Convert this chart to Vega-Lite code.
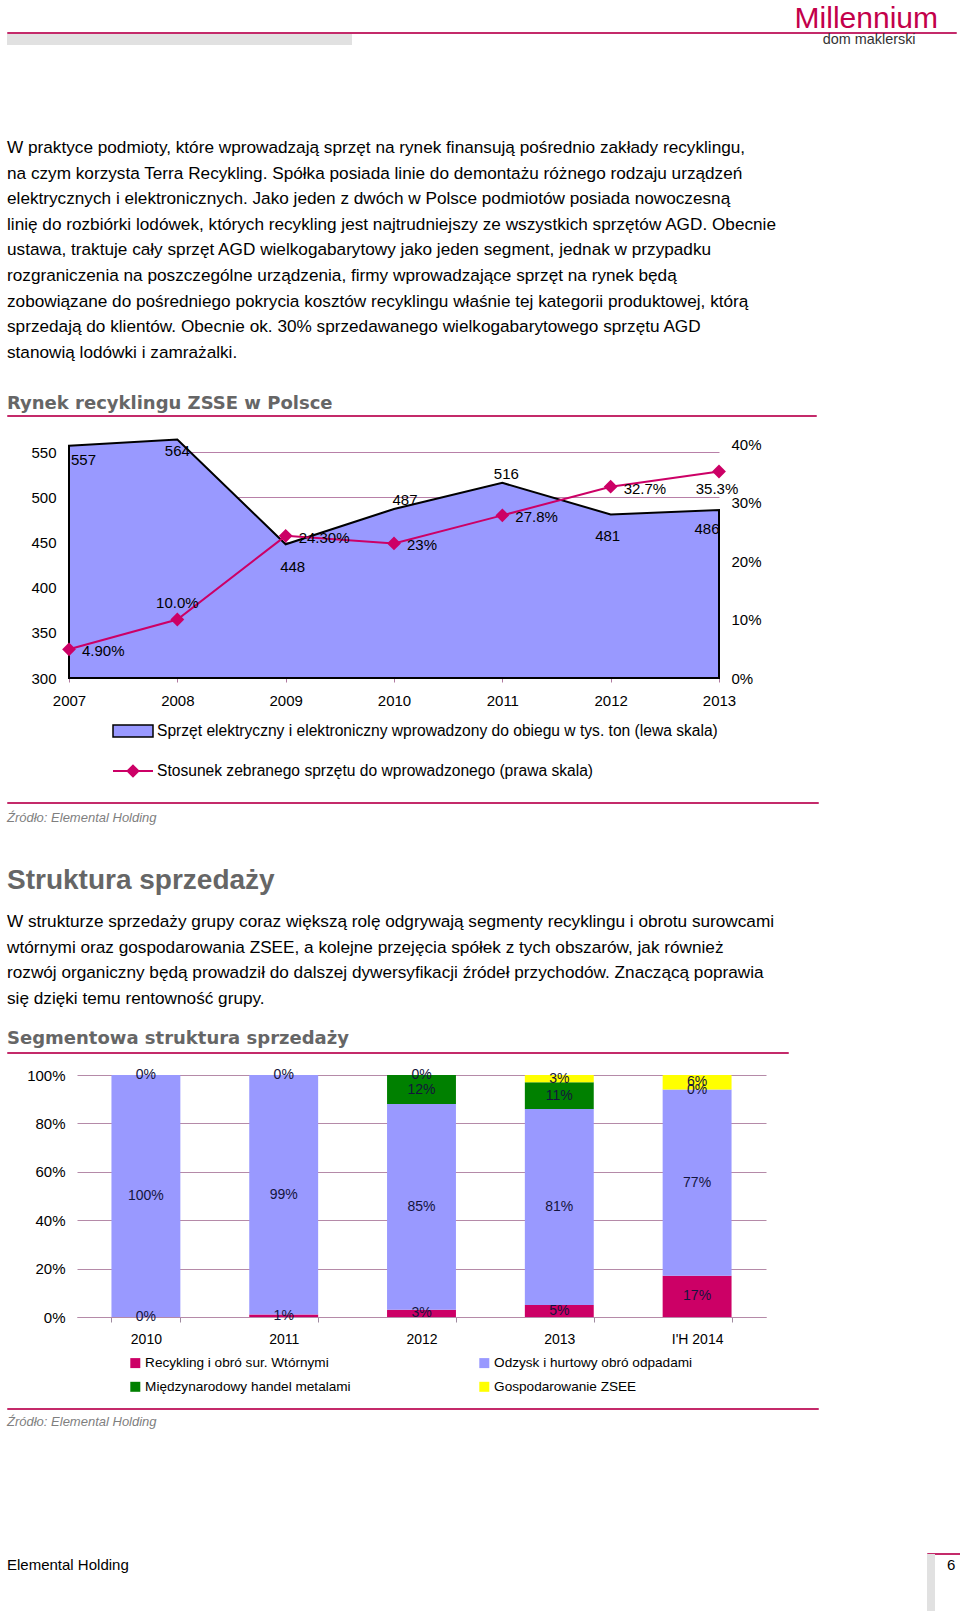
{
  "$schema": "https://vega.github.io/schema/vega-lite/v6.json",
  "background": "white",
  "padding": {"left": 6, "top": 3, "right": 0, "bottom": 0},
  "spacing": 0,
  "bounds": "full",
  "center": false,
  "resolve": {
    "scale": {"color": "independent", "fill": "independent", "stroke": "independent"},
    "legend": {"color": "independent", "fill": "independent", "stroke": "independent"}
  },
  "datasets": {
    "blank": [{}],
    "recykling": [
      {"year": "2007", "sprzet": 557, "ratio": 0.049, "rlabel": "4.90%"},
      {"year": "2008", "sprzet": 564, "ratio": 0.100, "rlabel": "10.0%"},
      {"year": "2009", "sprzet": 448, "ratio": 0.243, "rlabel": "24.30%"},
      {"year": "2010", "sprzet": 487, "ratio": 0.230, "rlabel": "23%"},
      {"year": "2011", "sprzet": 516, "ratio": 0.278, "rlabel": "27.8%"},
      {"year": "2012", "sprzet": 481, "ratio": 0.327, "rlabel": "32.7%"},
      {"year": "2013", "sprzet": 486, "ratio": 0.353, "rlabel": "35.3%"}
    ],
    "segmenty": [
      {"year": "2010", "segment": "Recykling i obró sur. Wtórnymi", "value": 0.00},
      {"year": "2010", "segment": "Odzysk i hurtowy obró odpadami", "value": 1.00},
      {"year": "2010", "segment": "Gospodarowanie ZSEE", "value": 0.00},
      {"year": "2011", "segment": "Recykling i obró sur. Wtórnymi", "value": 0.01},
      {"year": "2011", "segment": "Odzysk i hurtowy obró odpadami", "value": 0.99},
      {"year": "2011", "segment": "Gospodarowanie ZSEE", "value": 0.00},
      {"year": "2012", "segment": "Recykling i obró sur. Wtórnymi", "value": 0.03},
      {"year": "2012", "segment": "Odzysk i hurtowy obró odpadami", "value": 0.85},
      {"year": "2012", "segment": "Międzynarodowy handel metalami", "value": 0.12},
      {"year": "2012", "segment": "Gospodarowanie ZSEE", "value": 0.00},
      {"year": "2013", "segment": "Recykling i obró sur. Wtórnymi", "value": 0.05},
      {"year": "2013", "segment": "Odzysk i hurtowy obró odpadami", "value": 0.81},
      {"year": "2013", "segment": "Międzynarodowy handel metalami", "value": 0.11},
      {"year": "2013", "segment": "Gospodarowanie ZSEE", "value": 0.03},
      {"year": "I'H 2014", "segment": "Recykling i obró sur. Wtórnymi", "value": 0.17},
      {"year": "I'H 2014", "segment": "Odzysk i hurtowy obró odpadami", "value": 0.77},
      {"year": "I'H 2014", "segment": "Międzynarodowy handel metalami", "value": 0.00},
      {"year": "I'H 2014", "segment": "Gospodarowanie ZSEE", "value": 0.06}
    ]
  },
  "data": {"name": "blank"},
  "config": {
    "view": {"stroke": null},
    "font": "Liberation Sans",
    "axis": {"labelFont": "Liberation Sans", "titleFont": "Liberation Sans"},
    "legend": {"labelFont": "Liberation Sans"},
    "title": {"font": "Liberation Sans", "subtitleFont": "Liberation Sans"},
    "text": {"font": "Liberation Sans"}
  },
  "vconcat": [
    {
      "bounds": "flush",
      "spacing": 1,
      "vconcat": [
        {
          "width": 949, "height": 1,
          "view": {"stroke": "#C42A6A", "strokeWidth": 1},
          "title": {"text": "Millennium", "anchor": "end", "dx": -18, "fontSize": 30, "fontWeight": "normal", "color": "#C3004A", "offset": -2},
          "mark": {"type": "text", "fontSize": 0}, "encoding": {"text": {"value": ""}}
        },
        {
          "width": 345, "height": 11,
          "view": {"fill": "#E1E1E1", "stroke": null},
          "title": {"text": "dom maklerski", "orient": "right", "angle": 0, "anchor": "middle", "align": "left", "baseline": "middle", "offset": 378, "fontSize": 14.4, "fontWeight": "normal", "color": "#333333"},
          "mark": {"type": "text", "fontSize": 0}, "encoding": {"text": {"value": ""}}
        }
      ]
    },
    {"width": 1, "height": 92, "mark": {"type": "text", "fontSize": 0}, "encoding": {"text": {"value": ""}}},
    {
      "width": 809, "height": 1,
      "view": {"stroke": "#C42A6A", "strokeWidth": 1},
      "title": {
        "text": [
          "W praktyce podmioty, które wprowadzają sprzęt na rynek finansują pośrednio zakłady recyklingu,",
          "na czym korzysta Terra Recykling. Spółka posiada linie do demontażu różnego rodzaju urządzeń",
          "elektrycznych i elektronicznych. Jako jeden z dwóch w Polsce podmiotów posiada nowoczesną",
          "linię do rozbiórki lodówek, których recykling jest najtrudniejszy ze wszystkich sprzętów AGD. Obecnie",
          "ustawa, traktuje cały sprzęt AGD wielkogabarytowy jako jeden segment, jednak w przypadku",
          "rozgraniczenia na poszczególne urządzenia, firmy wprowadzające sprzęt na rynek będą",
          "zobowiązane do pośredniego pokrycia kosztów recyklingu właśnie tej kategorii produktowej, którą",
          "sprzedają do klientów. Obecnie ok. 30% sprzedawanego wielkogabarytowego sprzętu AGD",
          "stanowią lodówki i zamrażalki."
        ],
        "subtitle": " Rynek recyklingu ZSSE w Polsce",
        "anchor": "start", "fontSize": 17.2, "fontWeight": "normal", "color": "#000000", "lineHeight": 25.6,
        "subtitleFont": "DejaVu Sans", "subtitleFontSize": 18, "subtitleFontWeight": "bold", "subtitleColor": "#666666",
        "subtitlePadding": 34, "offset": 2
      },
      "mark": {"type": "text", "fontSize": 0}, "encoding": {"text": {"value": ""}}
    },
    {"width": 1, "height": 18, "mark": {"type": "text", "fontSize": 0}, "encoding": {"text": {"value": ""}}},
    {
      "bounds": "flush",
      "spacing": 0,
      "hconcat": [
        {"width": 62, "height": 1, "mark": {"type": "text", "fontSize": 0}, "encoding": {"text": {"value": ""}}},
        {
          "width": 650, "height": 234,
          "data": {"name": "recykling"},
          "encoding": {
            "x": {"field": "year", "type": "ordinal", "sort": null, "scale": {"type": "point", "padding": 0},
              "axis": {"title": null, "labelAngle": 0, "labelFontSize": 15, "labelColor": "#000", "labelPadding": 11, "domain": false, "ticks": true, "tickSize": 4, "tickColor": "#B07AA0"}}
          },
          "layer": [
            {
              "encoding": {
                "y": {"field": "sprzet", "type": "quantitative", "scale": {"domain": [300, 559], "zero": false, "nice": false},
                  "axis": {"orient": "left", "values": [300, 350, 400, 450, 500, 550], "title": null, "domain": false, "ticks": false, "labelPadding": 13, "labelFontSize": 15, "labelColor": "#000", "grid": true, "gridColor": "#B880A8", "gridWidth": 1}}
              },
              "layer": [
                {
                  "mark": {"type": "area", "stroke": "#000000", "strokeWidth": 2, "opacity": 1, "fillOpacity": 1},
                  "encoding": {
                    "y2": {"datum": 300},
                    "fill": {"datum": "Sprzęt elektryczny i elektroniczny wprowadzony do obiegu w tys. ton (lewa skala)", "type": "nominal",
                      "scale": {"range": ["#9999FF"]},
                      "legend": {"orient": "none", "legendX": 105, "legendY": 266, "title": null,
                        "symbolType": "M-1,-0.3H1V0.3H-1Z", "symbolSize": 1600, "symbolStrokeColor": "#000000", "symbolStrokeWidth": 1.5, "symbolOpacity": 1,
                        "labelFontSize": 15.6, "labelOffset": 3, "labelLimit": 900, "labelColor": "#000"}}
                  }
                },
                {"transform": [{"filter": "datum.year == '2007'"}], "mark": {"type": "text", "align": "left", "dx": 2, "dy": 14, "fontSize": 15, "color": "#000"}, "encoding": {"text": {"field": "sprzet", "type": "quantitative"}}},
                {"transform": [{"filter": "datum.year == '2008'"}], "mark": {"type": "text", "dx": 0, "dy": 12, "fontSize": 15, "color": "#000"}, "encoding": {"text": {"field": "sprzet", "type": "quantitative"}}},
                {"transform": [{"filter": "datum.year == '2009'"}], "mark": {"type": "text", "dx": 7, "dy": 23, "fontSize": 15, "color": "#000"}, "encoding": {"text": {"field": "sprzet", "type": "quantitative"}}},
                {"transform": [{"filter": "datum.year == '2010'"}], "mark": {"type": "text", "dx": 11, "dy": -9, "fontSize": 15, "color": "#000"}, "encoding": {"text": {"field": "sprzet", "type": "quantitative"}}},
                {"transform": [{"filter": "datum.year == '2011'"}], "mark": {"type": "text", "dx": 4, "dy": -9, "fontSize": 15, "color": "#000"}, "encoding": {"text": {"field": "sprzet", "type": "quantitative"}}},
                {"transform": [{"filter": "datum.year == '2012'"}], "mark": {"type": "text", "dx": -3, "dy": 22, "fontSize": 15, "color": "#000"}, "encoding": {"text": {"field": "sprzet", "type": "quantitative"}}},
                {"transform": [{"filter": "datum.year == '2013'"}], "mark": {"type": "text", "dx": -12, "dy": 19, "fontSize": 15, "color": "#000"}, "encoding": {"text": {"field": "sprzet", "type": "quantitative"}}}
              ]
            },
            {
              "encoding": {
                "y": {"field": "ratio", "type": "quantitative", "scale": {"domain": [0, 0.4], "nice": false},
                  "axis": {"orient": "right", "values": [0, 0.1, 0.2, 0.3, 0.4], "format": ".0%", "title": null, "domain": false, "ticks": false, "grid": false, "labelPadding": 12, "labelFontSize": 15, "labelColor": "#000"}}
              },
              "layer": [
                {
                  "mark": {"type": "line", "strokeWidth": 2, "point": {"filled": true, "shape": "diamond", "size": 121, "opacity": 1, "fill": "#CC0066", "color": "#CC0066"}},
                  "encoding": {
                    "stroke": {"datum": "Stosunek zebranego sprzętu do wprowadzonego (prawa skala)", "type": "nominal",
                      "scale": {"range": ["#CC0066"]},
                      "legend": {"orient": "none", "legendX": 105, "legendY": 306, "title": null,
                        "symbolType": "M-1,0H1M0,-0.27L0.27,0L0,0.27L-0.27,0Z", "symbolSize": 1600, "symbolFillColor": "#CC0066", "symbolStrokeWidth": 2, "symbolOpacity": 1,
                        "labelFontSize": 15.6, "labelOffset": 3, "labelLimit": 900, "labelColor": "#000"}}
                  }
                },
                {"transform": [{"filter": "datum.year == '2007' || datum.year == '2009' || datum.year == '2010' || datum.year == '2011' || datum.year == '2012'"}], "mark": {"type": "text", "align": "left", "dx": 13, "dy": 2, "fontSize": 15, "color": "#000"}, "encoding": {"text": {"field": "rlabel", "type": "nominal"}}},
                {"transform": [{"filter": "datum.year == '2008'"}], "mark": {"type": "text", "dy": -17, "fontSize": 15, "color": "#000"}, "encoding": {"text": {"field": "rlabel", "type": "nominal"}}},
                {"transform": [{"filter": "datum.year == '2013'"}], "mark": {"type": "text", "dx": -2, "dy": 18, "fontSize": 15, "color": "#000"}, "encoding": {"text": {"field": "rlabel", "type": "nominal"}}}
              ]
            }
          ],
          "resolve": {"scale": {"y": "independent"}}
        }
      ]
    },
    {"width": 1, "height": 20, "mark": {"type": "text", "fontSize": 0}, "encoding": {"text": {"value": ""}}},
    {
      "width": 811, "height": 1,
      "view": {"stroke": "#C42A6A", "strokeWidth": 1},
      "title": {"text": " Źródło: Elemental Holding", "orient": "bottom", "anchor": "start", "fontSize": 13, "fontStyle": "italic", "fontWeight": "normal", "color": "#7F7F7F", "offset": 9,
        "subtitle": "Struktura sprzedaży", "subtitleFontSize": 28, "subtitleColor": "#666666", "subtitlePadding": 42, "subtitleFontWeight": "bold"},
      "mark": {"type": "text", "fontSize": 0}, "encoding": {"text": {"value": ""}}
    },
    {"width": 1, "height": 16, "mark": {"type": "text", "fontSize": 0}, "encoding": {"text": {"value": ""}}},
    {
      "width": 781, "height": 1,
      "view": {"stroke": "#C42A6A", "strokeWidth": 1},
      "title": {
        "text": [
          "W strukturze sprzedaży grupy coraz większą rolę odgrywają segmenty recyklingu i obrotu surowcami",
          "wtórnymi oraz gospodarowania ZSEE, a kolejne przejęcia spółek z tych obszarów, jak również",
          "rozwój organiczny będą prowadził do dalszej dywersyfikacji źródeł przychodów. Znaczącą poprawia",
          "się dzięki temu rentowność grupy."
        ],
        "subtitle": " Segmentowa struktura sprzedaży",
        "anchor": "start", "fontSize": 17.2, "fontWeight": "normal", "color": "#000000", "lineHeight": 25.6,
        "subtitleFont": "DejaVu Sans", "subtitleFontSize": 18, "subtitleFontWeight": "bold", "subtitleColor": "#666666",
        "subtitlePadding": 23, "offset": 4
      },
      "mark": {"type": "text", "fontSize": 0}, "encoding": {"text": {"value": ""}}
    },
    {"width": 1, "height": 14, "mark": {"type": "text", "fontSize": 0}, "encoding": {"text": {"value": ""}}},
    {
      "bounds": "flush",
      "spacing": 0,
      "hconcat": [
        {"width": 70, "height": 1, "mark": {"type": "text", "fontSize": 0}, "encoding": {"text": {"value": ""}}},
        {
          "width": 689, "height": 242,
          "data": {"name": "segmenty"},
          "transform": [{"stack": "value", "groupby": ["year"], "sort": [{"field": "segment", "order": "descending"}], "as": ["v0", "v1"]}],
          "encoding": {
            "x": {"field": "year", "type": "nominal", "scale": {"domain": ["2010", "2011", "2012", "2013", "I'H 2014"], "paddingInner": 0.5, "paddingOuter": 0.25},
              "axis": {"title": null, "labelAngle": 0, "labelFontSize": 14, "labelColor": "#000", "labelPadding": 10, "tickBand": "extent", "tickSize": 5, "tickColor": "#9F8BA0", "domain": true, "domainColor": "#B58AA8"}}
          },
          "layer": [
            {
              "mark": {"type": "bar", "opacity": 1},
              "encoding": {
                "y": {"field": "v0", "type": "quantitative", "scale": {"domain": [0, 1], "nice": false},
                  "axis": {"values": [0, 0.2, 0.4, 0.6, 0.8, 1], "format": ".0%", "title": null, "domain": false, "ticks": false, "labelPadding": 12, "labelFontSize": 15, "labelColor": "#000", "grid": true, "gridColor": "#B58AA8"}},
                "y2": {"field": "v1"},
                "color": {"field": "segment", "type": "nominal",
                  "scale": {"domain": ["Recykling i obró sur. Wtórnymi", "Międzynarodowy handel metalami", "Odzysk i hurtowy obró odpadami", "Gospodarowanie ZSEE"], "range": ["#CC0066", "#008000", "#9999FF", "#FFFF00"]},
                  "legend": {"orient": "none", "legendX": 121.5, "legendY": 281, "columns": 2, "title": null, "symbolType": "square", "symbolSize": 100, "symbolStrokeWidth": 0, "symbolOpacity": 1, "labelFontSize": 13.6, "labelColor": "#000", "labelOffset": 3, "labelLimit": 400, "columnPadding": 126, "rowPadding": 9}}
              }
            },
            {
              "transform": [{"fold": ["v0", "v1"], "as": ["edge", "pos"]}, {"aggregate": [{"op": "mean", "field": "pos", "as": "mid"}], "groupby": ["year", "segment", "value"]}],
              "mark": {"type": "text", "fontSize": 14, "color": "#14143C"},
              "encoding": {
                "y": {"field": "mid", "type": "quantitative",
                  "axis": {"values": [0, 0.2, 0.4, 0.6, 0.8, 1], "format": ".0%", "title": null, "domain": false, "ticks": false, "labelPadding": 12, "labelFontSize": 15, "labelColor": "#000", "grid": true, "gridColor": "#B58AA8"}},
                "text": {"field": "value", "type": "quantitative", "format": ".0%"}
              }
            }
          ]
        }
      ]
    },
    {"width": 1, "height": 13, "mark": {"type": "text", "fontSize": 0}, "encoding": {"text": {"value": ""}}},
    {
      "width": 811, "height": 1,
      "view": {"stroke": "#C42A6A", "strokeWidth": 1},
      "title": {"text": " Źródło: Elemental Holding", "orient": "bottom", "anchor": "start", "fontSize": 13, "fontStyle": "italic", "fontWeight": "normal", "color": "#7F7F7F", "offset": 7},
      "mark": {"type": "text", "fontSize": 0}, "encoding": {"text": {"value": ""}}
    },
    {"width": 1, "height": 122, "mark": {"type": "text", "fontSize": 0}, "encoding": {"text": {"value": ""}}},
    {
      "bounds": "flush",
      "spacing": 0,
      "hconcat": [
        {
          "width": 920, "height": 58,
          "title": {"text": "Elemental Holding", "anchor": "start", "offset": -20, "fontSize": 15, "fontWeight": "normal", "color": "#000000"},
          "mark": {"type": "text", "fontSize": 0}, "encoding": {"text": {"value": ""}}
        },
        {
          "bounds": "flush",
          "spacing": 0,
          "vconcat": [
            {"width": 34, "height": 1, "view": {"stroke": "#C42A6A", "strokeWidth": 1}, "mark": {"type": "text", "fontSize": 0}, "encoding": {"text": {"value": ""}}},
            {
              "width": 8, "height": 57,
              "view": {"fill": "#E1E1E1", "stroke": null},
              "title": {"text": "6", "anchor": "start", "dx": 20, "offset": -19, "fontSize": 15, "fontWeight": "normal", "color": "#000000"},
              "mark": {"type": "text", "fontSize": 0}, "encoding": {"text": {"value": ""}}
            }
          ]
        }
      ]
    }
  ]
}
